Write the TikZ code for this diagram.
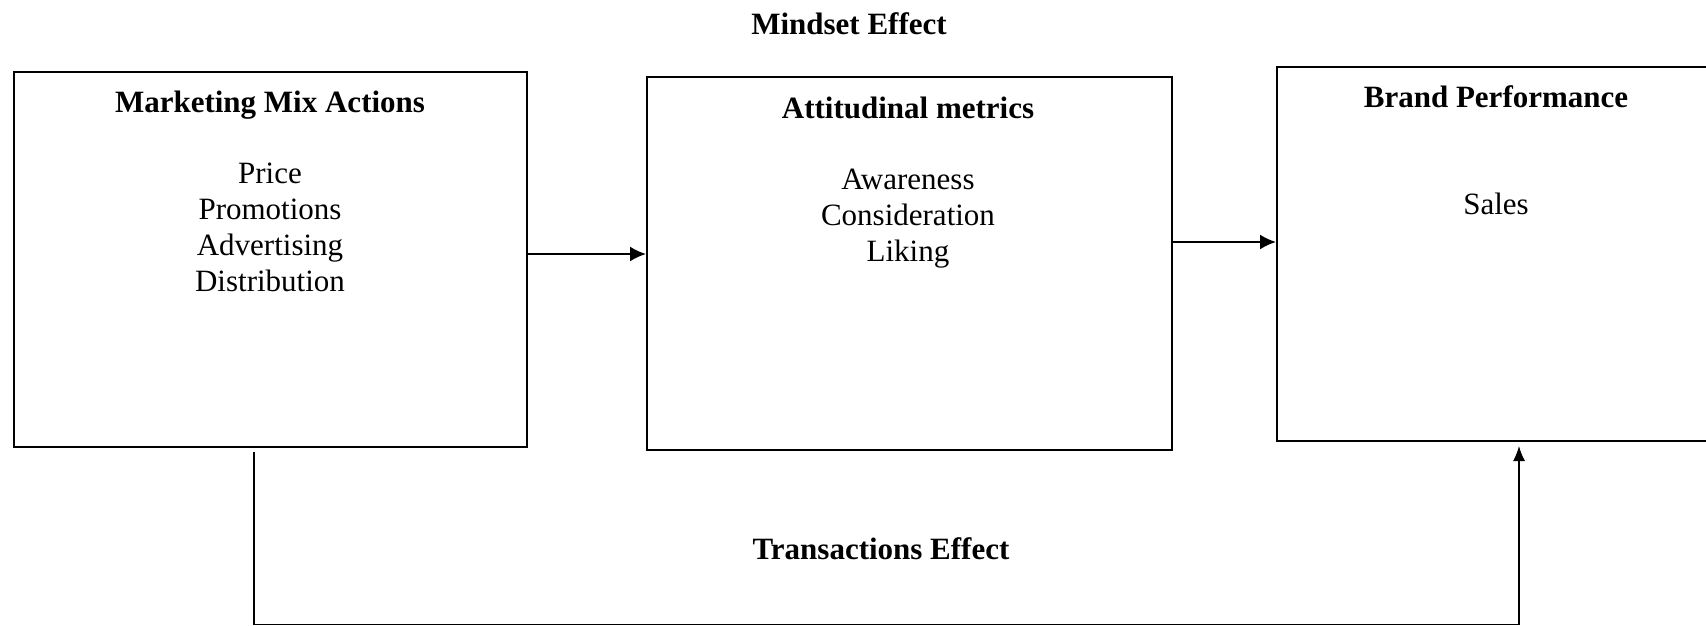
\documentclass[tikz,border=0pt]{standalone}
\usepackage{fontspec}
\setmainfont{Liberation Serif}
\usetikzlibrary{arrows.meta}
\tikzstyle{block} = [rectangle, draw=black, line width=2pt, inner sep=0pt]
\tikzstyle{head} = [font=\fontsize{31}{36}\selectfont\bfseries, inner sep=0pt]
\tikzstyle{items} = [font=\fontsize{31}{36}\selectfont, align=center, inner sep=0pt]
\tikzstyle{arrow} = [line width=2pt, -{Latex[length=16pt, width=15pt]}]
\tikzstyle{link} = [line width=1.3pt, -{Latex[length=15pt, width=12pt]}]

\begin{document}
\begin{tikzpicture}[x=1pt, y=-1pt]
\useasboundingbox (0,0) rectangle (1706,626);

\node (mix) [block, minimum width=513pt, minimum height=375pt] at (270.5,259.5) {};
\node (att) [block, minimum width=525pt, minimum height=373pt] at (909.5,263.5) {};
\node (perf) [block, minimum width=438pt, minimum height=374pt] at (1496,254) {};

\node (mixhead) [head] at (270,105) {Marketing Mix Actions};
\node (atthead) [head] at (908,108) {Attitudinal metrics};
\node (perfhead) [head] at (1496,97) {Brand Performance};

\node (mixlist) [items] at (270,227) {Price\\Promotions\\Advertising\\Distribution};
\node (attlist) [items] at (908,218.5) {Awareness\\Consideration\\Liking};
\node (perflist) [items] at (1496,204) {Sales};

\node (mindset) [head] at (849,24) {Mindset Effect};
\node (trans) [head] at (881,549) {Transactions Effect};

\draw [arrow] ([yshift=5.5]mix.east) -- ([yshift=9.5]att.west);
\draw [arrow] ([yshift=21.5]att.east) -- ([yshift=12]perf.west);

% direct path under the boxes
\coordinate (out) at ([xshift=-16.5, yshift=-4]mix.south);
\coordinate (in) at ([xshift=23, yshift=-4]perf.south);
\coordinate (base) at (880,624.5);
\draw [link] (out) -- (out |- base) -| (in);

\end{tikzpicture}
\end{document}
